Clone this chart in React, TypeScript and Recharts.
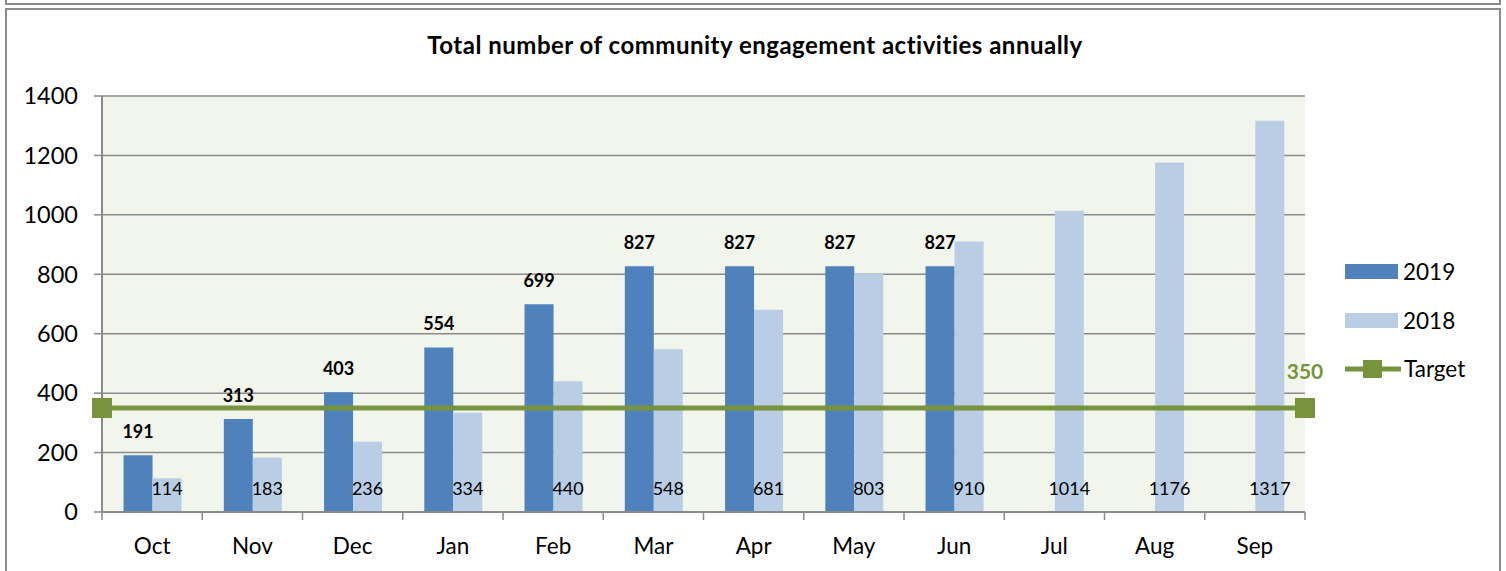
import { ComposedChart, Bar, Line, XAxis, YAxis, CartesianGrid, LabelList } from "recharts";

const months = ["Oct", "Nov", "Dec", "Jan", "Feb", "Mar", "Apr", "May", "Jun", "Jul", "Aug", "Sep"];
const values2019 = [191, 313, 403, 554, 699, 827, 827, 827, 827, null, null, null];
const values2018 = [114, 183, 236, 334, 440, 548, 681, 803, 910, 1014, 1176, 1317];
const yTicks = [0, 200, 400, 600, 800, 1000, 1200, 1400];
const targetValue = 350;

const data = months.map((m, i) => ({ month: m, y2019: values2019[i], y2018: values2018[i] }));
const targetData = [
  { t: 0, target: targetValue },
  { t: 1, target: targetValue },
];

const W = 1506;
const H = 571;
const PLOT_LEFT = 102;
const PLOT_RIGHT = 1305;
const BAND = (PLOT_RIGHT - PLOT_LEFT) / months.length;

const BLUE = "#4F81BD";
const LIGHT = "#B9CDE5";
const GREEN = "#77933C";
const AXIS = "#8a8a8a";
const FONT = "Lato, 'Open Sans', sans-serif";

function MonthTick(props: any) {
  const { x, y, payload, index } = props;
  const half = BAND / 2;
  return (
    <g>
      <line x1={x - half} x2={x - half} y1={y} y2={y + 8} stroke={AXIS} strokeWidth={1.5} />
      {index === months.length - 1 && (
        <line x1={x + half} x2={x + half} y1={y} y2={y + 8} stroke={AXIS} strokeWidth={1.5} />
      )}
      <text x={x} y={y + 42} textAnchor="middle" fontSize={22.5} fill="#000" fontFamily={FONT}>
        {payload.value}
      </text>
    </g>
  );
}

function TopLabel(props: any) {
  const { x, y, width, value } = props;
  if (value == null) return null;
  return (
    <text x={x + width / 2} y={y - 17} textAnchor="middle" fontSize={18} fontWeight="bold" fill="#000" fontFamily={FONT}>
      {value}
    </text>
  );
}

function BaseLabel(props: any) {
  const { x, y, width, height, value } = props;
  if (value == null) return null;
  return (
    <text x={x + width / 2} y={y + height - 17} textAnchor="middle" fontSize={18} fill="#000" fontFamily={FONT}>
      {value}
    </text>
  );
}

function TargetLabel(props: any) {
  const { x, y, index, value } = props;
  if (index !== targetData.length - 1) return null;
  return (
    <text x={x} y={y - 29} textAnchor="middle" fontSize={21} fontWeight="bold" fill={GREEN} fontFamily={FONT}>
      {value}
    </text>
  );
}

function SquareDot(props: any) {
  const { cx, cy, index } = props;
  return <rect key={`sq-${index}`} x={cx - 10} y={cy - 10} width={20} height={20} fill={GREEN} />;
}

function LegendBox() {
  const row = { position: "absolute" as const, left: 1345, display: "flex", alignItems: "center", fontSize: 22.5, fontFamily: FONT };
  return (
    <>
      <div style={{ ...row, top: 258 }}>
        <span style={{ width: 53, height: 15, background: BLUE, display: "inline-block", marginRight: 5 }} />
        2019
      </div>
      <div style={{ ...row, top: 307 }}>
        <span style={{ width: 53, height: 15, background: LIGHT, display: "inline-block", marginRight: 5 }} />
        2018
      </div>
      <div style={{ ...row, top: 355 }}>
        <svg width={56} height={20} style={{ marginRight: 3 }}>
          <line x1={0} x2={56} y1={10} y2={10} stroke={GREEN} strokeWidth={5} />
          <rect x={18} y={1} width={19} height={18} fill={GREEN} />
        </svg>
        Target
      </div>
    </>
  );
}

export default function App() {
  return (
    <div style={{ position: "fixed", left: 0, top: 0, width: W, height: H, background: "#fff", overflow: "hidden" }}>
      <div style={{ position: "absolute", left: 5, top: -10, width: 1492, height: 11, border: `2px solid ${AXIS}` }} />
      <div style={{ position: "absolute", left: 5, top: 8, width: 1492, height: 600, border: `2px solid ${AXIS}` }} />
      <div
        style={{
          position: "absolute",
          left: 0,
          width: 1510,
          top: 30,
          textAlign: "center",
          fontFamily: FONT,
          fontWeight: "bold",
          fontSize: 24,
          letterSpacing: 0.5,
        }}
      >
        Total number of community engagement activities annually
      </div>
      <div style={{ position: "absolute", left: 0, top: 0 }}>
        <ComposedChart
          width={W}
          height={H}
          data={data}
          margin={{ top: 96, right: W - PLOT_RIGHT, bottom: 0, left: 0 }}
          barGap={0}
          barCategoryGap="21.5%"
        >
          <CartesianGrid vertical={false} stroke={AXIS} strokeWidth={1.5} fill="#F2F5EC" />
          <XAxis
            dataKey="month"
            height={59}
            interval={0}
            tickSize={0}
            tickMargin={0}
            tickLine={false}
            axisLine={{ stroke: AXIS, strokeWidth: 2 }}
            tick={<MonthTick />}
          />
          <XAxis xAxisId="t" type="number" dataKey="t" domain={[0, 1]} hide />
          <YAxis
            width={PLOT_LEFT}
            domain={[0, 1400]}
            ticks={yTicks}
            interval={0}
            tickSize={8}
            tickMargin={16}
            tickLine={{ stroke: AXIS, strokeWidth: 1.5 }}
            axisLine={{ stroke: AXIS, strokeWidth: 2 }}
            tick={{ fontSize: 23.5, fill: "#000", fontFamily: FONT }}
          />
          <Bar dataKey="y2019" fill={BLUE} isAnimationActive={false}>
            <LabelList dataKey="y2019" content={<TopLabel />} />
          </Bar>
          <Bar dataKey="y2018" fill={LIGHT} isAnimationActive={false}>
            <LabelList dataKey="y2018" content={<BaseLabel />} />
          </Bar>
          <Line
            xAxisId="t"
            data={targetData}
            dataKey="target"
            stroke={GREEN}
            strokeWidth={5}
            dot={SquareDot}
            activeDot={false}
            isAnimationActive={false}
          >
            <LabelList dataKey="target" content={<TargetLabel />} />
          </Line>
        </ComposedChart>
      </div>
      <LegendBox />
    </div>
  );
}
